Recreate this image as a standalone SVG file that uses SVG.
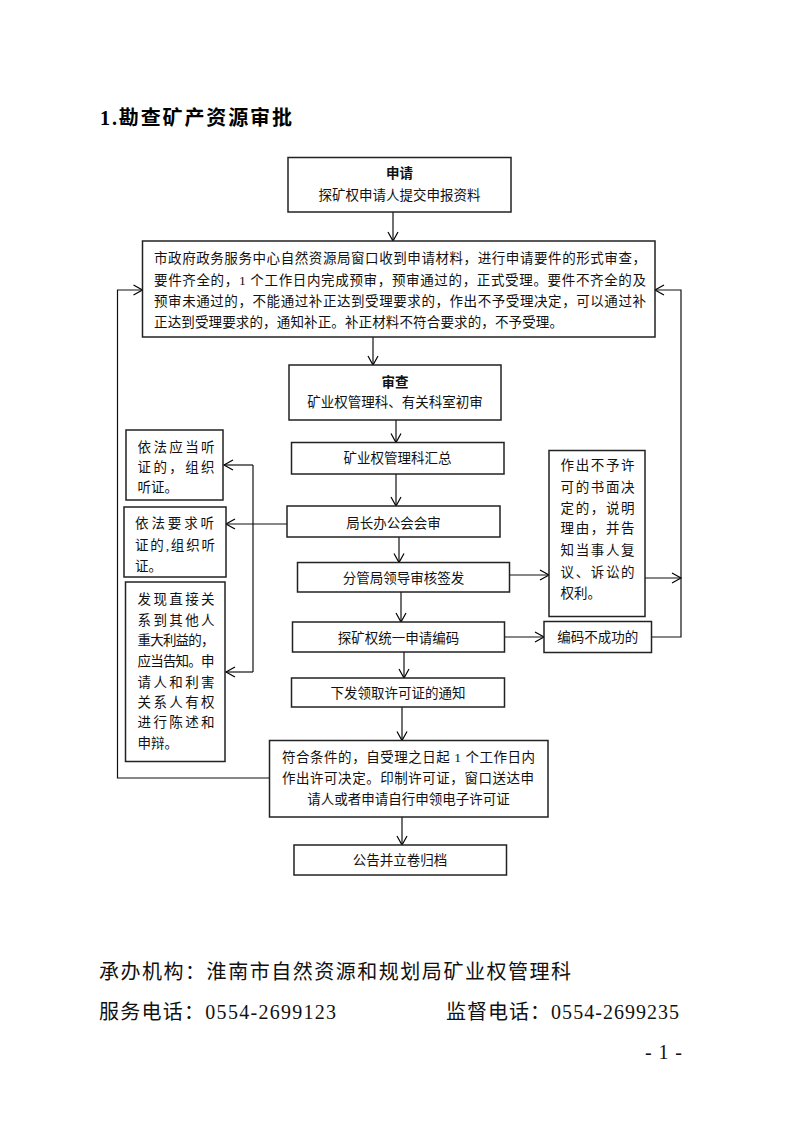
<svg xmlns="http://www.w3.org/2000/svg" width="793" height="1122" viewBox="0 0 793 1122">
<defs>
<marker id="arr" markerUnits="userSpaceOnUse" markerWidth="12" markerHeight="12" refX="10" refY="6" orient="auto">
<path d="M1,1 L10,6 L1,11" fill="none" stroke="#000" stroke-width="1.2"/>
</marker>
<style>
.b{fill:#fff;stroke:#222;stroke-width:1.5}
.t{font-family:"Liberation Serif","Noto Sans CJK SC",serif;font-size:13.5px;fill:#111}
.c{text-anchor:middle}
.bd{font-weight:bold}
.l{fill:none;stroke:#111;stroke-width:1.2}
.f{font-family:"Liberation Serif","Noto Sans CJK SC",serif;font-size:20px;fill:#111}
</style>
</defs>
<rect width="793" height="1122" fill="#fff"/>
<text x="100" y="125" font-family="Liberation Serif,'Noto Sans CJK SC',serif" font-size="20" font-weight="bold" textLength="192" lengthAdjust="spacing" fill="#000">1.勘查矿产资源审批</text>

<g id="connectors">
<line class="l" x1="393" y1="212" x2="393" y2="241" marker-end="url(#arr)"/>
<line class="l" x1="373" y1="337" x2="373" y2="365" marker-end="url(#arr)"/>
<line class="l" x1="396" y1="420" x2="396" y2="442.5" marker-end="url(#arr)"/>
<line class="l" x1="396" y1="474" x2="396" y2="506" marker-end="url(#arr)"/>
<line class="l" x1="399" y1="537" x2="399" y2="562.5" marker-end="url(#arr)"/>
<line class="l" x1="401" y1="592" x2="401" y2="622" marker-end="url(#arr)"/>
<line class="l" x1="404" y1="652" x2="404" y2="678" marker-end="url(#arr)"/>
<line class="l" x1="402" y1="707" x2="402" y2="740.5" marker-end="url(#arr)"/>
<line class="l" x1="402" y1="817" x2="402" y2="845" marker-end="url(#arr)"/>
<line class="l" x1="287" y1="524" x2="226" y2="524" marker-end="url(#arr)"/>
<polyline class="l" points="253,465 253,672"/>
<line class="l" x1="253" y1="465" x2="224" y2="465" marker-end="url(#arr)"/>
<line class="l" x1="253" y1="672" x2="226" y2="672" marker-end="url(#arr)"/>
<line class="l" x1="510" y1="575" x2="549" y2="575" marker-end="url(#arr)"/>
<line class="l" x1="645" y1="578" x2="681" y2="578" marker-end="url(#arr)"/>
<line class="l" x1="505" y1="637" x2="544" y2="637" marker-end="url(#arr)"/>
<polyline class="l" points="652,637 681,637 681,290 655,290" marker-end="url(#arr)"/>
<polyline class="l" points="270,778 117.5,778 117.5,290 142.5,290" marker-end="url(#arr)"/>
</g>

<g id="n-apply">
<rect class="b" x="288" y="157.5" width="223" height="54.5"/>
<text class="t c bd" x="399.5" y="178">申请</text>
<text class="t c" x="399.5" y="200">探矿权申请人提交申报资料</text>
</g>

<g id="n-accept">
<rect class="b" x="142.5" y="241" width="512.5" height="96"/>
<text class="t" x="154" y="262.5" textLength="492" lengthAdjust="spacing">市政府政务服务中心自然资源局窗口收到申请材料，进行申请要件的形式审查，</text>
<text class="t" x="154" y="284.5" textLength="492" lengthAdjust="spacing">要件齐全的，1 个工作日内完成预审，预审通过的，正式受理。要件不齐全的及</text>
<text class="t" x="154" y="305.5" textLength="492" lengthAdjust="spacing">预审未通过的，不能通过补正达到受理要求的，作出不予受理决定，可以通过补</text>
<text class="t" x="154" y="326.5" textLength="409" lengthAdjust="spacing">正达到受理要求的，通知补正。补正材料不符合要求的，不予受理。</text>
</g>

<g id="n-review">
<rect class="b" x="289" y="365" width="212" height="55"/>
<text class="t c bd" x="395" y="387">审查</text>
<text class="t c" x="395" y="406.5">矿业权管理科、有关科室初审</text>
</g>

<g id="n-summary">
<rect class="b" x="291.5" y="442.5" width="212.5" height="31.5"/>
<text class="t c" x="397.5" y="463">矿业权管理科汇总</text>
</g>

<g id="n-meeting">
<rect class="b" x="287" y="506" width="213" height="31"/>
<text class="t c" x="393.5" y="528">局长办公会会审</text>
</g>

<g id="n-sign">
<rect class="b" x="297.5" y="562.5" width="212" height="29.5"/>
<text class="t c" x="403.5" y="583">分管局领导审核签发</text>
</g>

<g id="n-code">
<rect class="b" x="292.5" y="622" width="212" height="30"/>
<text class="t c" x="398.5" y="642.5">探矿权统一申请编码</text>
</g>

<g id="n-codefail">
<rect class="b" x="544" y="621.5" width="107.5" height="31"/>
<text class="t c" x="597.75" y="642">编码不成功的</text>
</g>

<g id="n-notice">
<rect class="b" x="291.5" y="678" width="213" height="29"/>
<text class="t c" x="398" y="698">下发领取许可证的通知</text>
</g>

<g id="n-decision">
<rect class="b" x="269.5" y="740.5" width="278.5" height="76.5"/>
<text class="t" x="282" y="762" textLength="253" lengthAdjust="spacing">符合条件的，自受理之日起 1 个工作日内</text>
<text class="t" x="282" y="783" textLength="252" lengthAdjust="spacing">作出许可决定。印制许可证，窗口送达申</text>
<text class="t c" x="408.5" y="803.5">请人或者申请自行申领电子许可证</text>
</g>

<g id="n-archive">
<rect class="b" x="294" y="845" width="212.5" height="30"/>
<text class="t c" x="400" y="865">公告并立卷归档</text>
</g>

<g id="n-hearing1">
<rect class="b" x="126" y="430" width="97" height="70"/>
<text class="t" x="137.5" y="451.5" textLength="77" lengthAdjust="spacing">依法应当听</text>
<text class="t" x="137.5" y="471.5" textLength="77" lengthAdjust="spacing">证的，组织</text>
<text class="t" x="137.5" y="491.5">听证。</text>
</g>

<g id="n-hearing2">
<rect class="b" x="124" y="507" width="102" height="70"/>
<text class="t" x="135" y="528" textLength="79" lengthAdjust="spacing">依法要求听</text>
<text class="t" x="135" y="550" textLength="80" lengthAdjust="spacing">证的,组织听</text>
<text class="t" x="135" y="570.5">证。</text>
</g>

<g id="n-inform">
<rect class="b" x="125.5" y="582" width="99.5" height="179.5"/>
<text class="t" x="137.5" y="604" textLength="77" lengthAdjust="spacing">发现直接关</text>
<text class="t" x="137.5" y="625" textLength="77" lengthAdjust="spacing">系到其他人</text>
<text class="t" x="137.5" y="645" textLength="77" lengthAdjust="spacing">重大利益的，</text>
<text class="t" x="137.5" y="666" textLength="77" lengthAdjust="spacing">应当告知。申</text>
<text class="t" x="137.5" y="686.5" textLength="77" lengthAdjust="spacing">请人和利害</text>
<text class="t" x="137.5" y="707" textLength="77" lengthAdjust="spacing">关系人有权</text>
<text class="t" x="137.5" y="727" textLength="77" lengthAdjust="spacing">进行陈述和</text>
<text class="t" x="137.5" y="748">申辩。</text>
</g>

<g id="n-refuse">
<rect class="b" x="549" y="450.5" width="96" height="166"/>
<text class="t" x="560.5" y="470" textLength="74" lengthAdjust="spacing">作出不予许</text>
<text class="t" x="560.5" y="491.5" textLength="74" lengthAdjust="spacing">可的书面决</text>
<text class="t" x="560.5" y="513" textLength="74" lengthAdjust="spacing">定的，说明</text>
<text class="t" x="560.5" y="533" textLength="74" lengthAdjust="spacing">理由，并告</text>
<text class="t" x="560.5" y="555" textLength="74" lengthAdjust="spacing">知当事人复</text>
<text class="t" x="560.5" y="576.5" textLength="74" lengthAdjust="spacing">议、诉讼的</text>
<text class="t" x="560.5" y="598">权利。</text>
</g>

<text class="f" x="99" y="979" textLength="472" lengthAdjust="spacing">承办机构：淮南市自然资源和规划局矿业权管理科</text>
<text class="f" x="99" y="1019" textLength="237" lengthAdjust="spacing">服务电话：0554-2699123</text>
<text class="f" x="446" y="1019" textLength="233" lengthAdjust="spacing">监督电话：0554-2699235</text>
<text class="f" x="645" y="1059" textLength="37" lengthAdjust="spacing">- 1 -</text>
</svg>
